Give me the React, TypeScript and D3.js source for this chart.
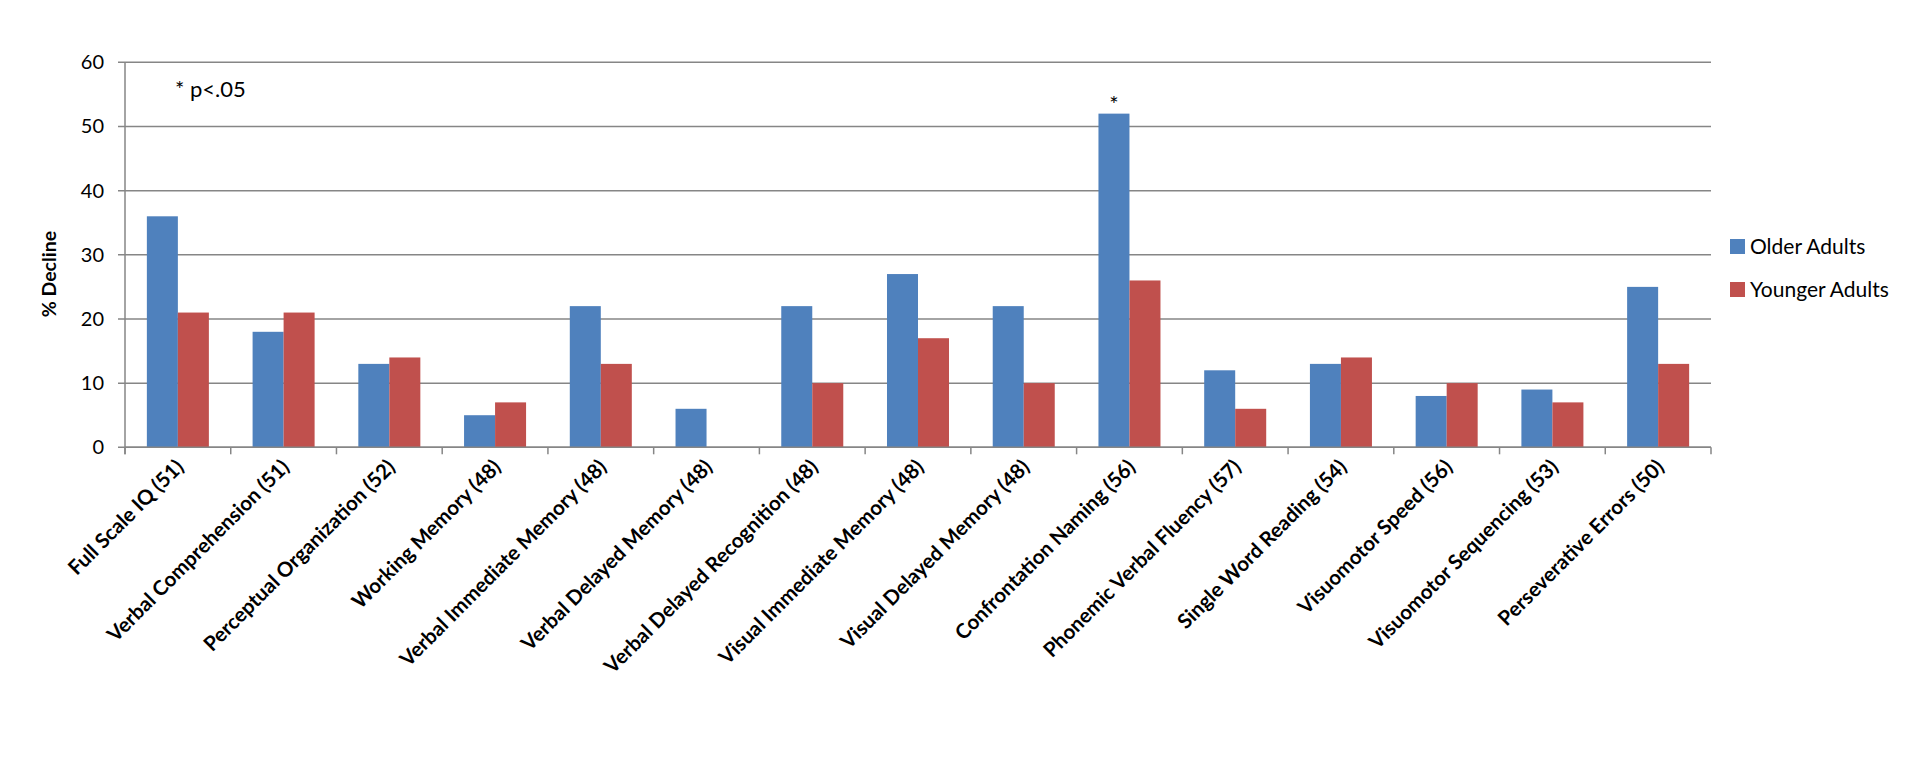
import React, { useEffect, useRef } from "react";
import * as d3 from "d3";

const categories = [
  "Full Scale IQ (51)",
  "Verbal Comprehension (51)",
  "Perceptual Organization (52)",
  "Working Memory (48)",
  "Verbal Immediate Memory (48)",
  "Verbal Delayed Memory (48)",
  "Verbal Delayed Recognition (48)",
  "Visual Immediate Memory (48)",
  "Visual Delayed Memory (48)",
  "Confrontation Naming (56)",
  "Phonemic Verbal Fluency (57)",
  "Single Word Reading (54)",
  "Visuomotor Speed (56)",
  "Visuomotor Sequencing (53)",
  "Perseverative Errors (50)",
];
const olderAdults = [36, 18, 13, 5, 22, 6, 22, 27, 22, 52, 12, 13, 8, 9, 25];
const youngerAdults = [21, 21, 14, 7, 13, 0, 10, 17, 10, 26, 6, 14, 10, 7, 13];
const seriesNames = ["Older Adults", "Younger Adults"];
const seriesColors = ["#4F81BD", "#C0504D"];
const yTicks = [0, 10, 20, 30, 40, 50, 60];
const significant = ["Confrontation Naming (56)"];

const W = 1925;
const H = 775;
const FONT = "Lato, 'Open Sans', 'Liberation Sans', sans-serif";

export default function App() {
  const ref = useRef<SVGSVGElement>(null);
  useEffect(() => {
    const svg = d3.select(ref.current);
    svg.selectAll("*").remove();
    const left = 125, right = 1711, top = 62.3, bottom = 447.3;
    const x = d3.scaleBand().domain(categories).range([left, right]).paddingInner(0).paddingOuter(0);
    const y = d3.scaleLinear().domain([0, 60]).range([bottom, top]);
    const inner = d3.scaleBand().domain(seriesNames).range([0, x.bandwidth()]).paddingOuter(0.705).paddingInner(0);

    const g = svg.append("g");
    g.selectAll("line.grid").data(yTicks).enter().append("line")
      .attr("x1", left - 7).attr("x2", right)
      .attr("y1", d => y(d)).attr("y2", d => y(d))
      .attr("stroke", "#868686").attr("stroke-width", 1.5);
    g.selectAll("text.ylab").data(yTicks).enter().append("text")
      .attr("x", 104).attr("y", d => y(d) + 7)
      .attr("text-anchor", "end").attr("font-family", FONT).attr("font-size", 20)
      .attr("fill", "#000").text(d => String(d));
    g.append("line").attr("x1", left).attr("x2", left).attr("y1", top).attr("y2", bottom + 7)
      .attr("stroke", "#868686").attr("stroke-width", 1.5);
    const tickPos = categories.map(c => x(c)!).concat([right]);
    g.selectAll("line.xt").data(tickPos).enter().append("line")
      .attr("x1", d => d).attr("x2", d => d).attr("y1", bottom).attr("y2", bottom + 7)
      .attr("stroke", "#868686").attr("stroke-width", 1.5);

    const data = [olderAdults, youngerAdults];
    data.forEach((vals, si) => {
      g.selectAll(`rect.s${si}`).data(categories).enter().append("rect")
        .attr("x", (c) => x(c)! + inner(seriesNames[si])!)
        .attr("width", inner.bandwidth())
        .attr("y", (c, i) => y(vals[i]))
        .attr("height", (c, i) => bottom - y(vals[i]))
        .attr("fill", seriesColors[si]);
    });
    g.append("line").attr("x1", left).attr("x2", right).attr("y1", bottom).attr("y2", bottom)
      .attr("stroke", "#868686").attr("stroke-width", 1.5);

    significant.forEach(c => {
      const i = categories.indexOf(c);
      g.append("text")
        .attr("x", x(c)! + inner(seriesNames[0])! + inner.bandwidth() / 2)
        .attr("y", y(olderAdults[i]) - 2)
        .attr("text-anchor", "middle").attr("font-family", FONT).attr("font-size", 22)
        .text("*");
    });

    g.selectAll("text.xlab").data(categories).enter().append("text")
      .attr("transform", c => `translate(${x(c)! + x.bandwidth() / 2 + 7},${bottom + 21}) rotate(-45)`)
      .attr("text-anchor", "end").attr("font-family", FONT).attr("font-size", 20.5)
      .attr("font-weight", "bold").attr("fill", "#000").text(c => c);

    g.append("text").attr("transform", `translate(56,274) rotate(-90)`)
      .attr("text-anchor", "middle").attr("font-family", FONT).attr("font-size", 19.5)
      .attr("font-weight", "bold").text("% Decline");

    g.append("text").attr("x", 175).attr("y", 97).attr("font-family", FONT).attr("font-size", 22)
      .text("* p<.05");

    seriesNames.forEach((n, i) => {
      const cy = 246 + i * 43;
      g.append("rect").attr("x", 1730).attr("y", cy - 7).attr("width", 15).attr("height", 15)
        .attr("fill", seriesColors[i]);
      g.append("text").attr("x", 1750).attr("y", cy + 8).attr("font-family", FONT).attr("font-size", 21)
        .text(n);
    });
  }, []);
  return (
    <svg ref={ref} width={W} height={H} style={{ position: "absolute", left: 0, top: 0, background: "#fff", display: "block" }} />
  );
}
